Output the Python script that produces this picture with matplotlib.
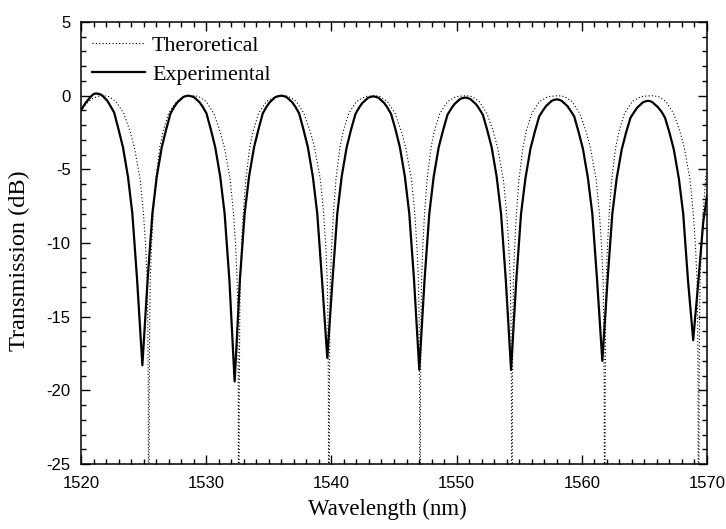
import matplotlib
matplotlib.use('Agg')
import matplotlib.pyplot as plt
from matplotlib.ticker import MultipleLocator

plt.rcParams['axes.unicode_minus'] = False
plt.rcParams['font.family'] = 'Liberation Sans'

# theoretical transmission (dotted)
theo_wl = [
    1520.00, 1520.40, 1520.90, 1521.30, 1521.80,
    1522.21, 1522.81, 1523.41, 1523.91, 1524.26, 1524.73, 1524.99, 1525.16, 1525.28, 1525.33, 1525.37, 1525.41,
    1525.45, 1525.49, 1525.53, 1525.63, 1525.77, 1525.97, 1526.29, 1526.56, 1526.99, 1527.61, 1528.31, 1529.00,
    1529.40, 1530.00, 1530.60, 1531.10, 1531.45, 1531.92, 1532.18, 1532.35, 1532.47, 1532.52, 1532.56, 1532.60,
    1532.64, 1532.68, 1532.72, 1532.82, 1532.96, 1533.16, 1533.48, 1533.75, 1534.18, 1534.80, 1535.50, 1536.25,
    1536.60, 1537.20, 1537.80, 1538.30, 1538.65, 1539.12, 1539.38, 1539.55, 1539.67, 1539.72, 1539.76, 1539.80,
    1539.84, 1539.88, 1539.92, 1540.02, 1540.16, 1540.36, 1540.68, 1540.95, 1541.38, 1542.00, 1542.70, 1543.45,
    1543.88, 1544.48, 1545.08, 1545.58, 1545.93, 1546.40, 1546.66, 1546.83, 1546.95, 1547.00, 1547.04, 1547.08,
    1547.12, 1547.16, 1547.20, 1547.30, 1547.44, 1547.64, 1547.96, 1548.23, 1548.66, 1549.28, 1549.98, 1550.75,
    1551.22, 1551.82, 1552.42, 1552.92, 1553.27, 1553.74, 1554.00, 1554.17, 1554.29, 1554.34, 1554.38, 1554.42,
    1554.46, 1554.50, 1554.54, 1554.64, 1554.78, 1554.98, 1555.30, 1555.57, 1556.00, 1556.62, 1557.32, 1558.12,
    1558.63, 1559.23, 1559.83, 1560.33, 1560.68, 1561.15, 1561.41, 1561.58, 1561.70, 1561.75, 1561.79, 1561.83,
    1561.87, 1561.91, 1561.95, 1562.05, 1562.19, 1562.39, 1562.71, 1562.98, 1563.41, 1564.03, 1564.73, 1565.58,
    1566.13, 1566.73, 1567.33, 1567.83, 1568.18, 1568.65, 1568.91, 1569.08, 1569.20, 1569.25, 1569.29, 1569.33,
    1569.37, 1569.41, 1569.45, 1569.55, 1569.69, 1569.89, 1570.00,
]
theo_db = [
    -1.05, -0.55, -0.20, -0.05, 0.00,
    -0.06, -0.4, -1.2, -2.4, -3.5, -5.7, -8.0, -10.2, -12.5, -15.0, -20.0, -40.0,
    -20.0, -15.0, -12.5, -10.2, -8.0, -5.7, -3.5, -2.4, -1.2, -0.4, -0.06, 0.00,
    -0.06, -0.4, -1.2, -2.4, -3.5, -5.7, -8.0, -10.2, -12.5, -15.0, -20.0, -40.0,
    -20.0, -15.0, -12.5, -10.2, -8.0, -5.7, -3.5, -2.4, -1.2, -0.4, -0.06, 0.00,
    -0.06, -0.4, -1.2, -2.4, -3.5, -5.7, -8.0, -10.2, -12.5, -15.0, -20.0, -40.0,
    -20.0, -15.0, -12.5, -10.2, -8.0, -5.7, -3.5, -2.4, -1.2, -0.4, -0.06, 0.00,
    -0.06, -0.4, -1.2, -2.4, -3.5, -5.7, -8.0, -10.2, -12.5, -15.0, -20.0, -40.0,
    -20.0, -15.0, -12.5, -10.2, -8.0, -5.7, -3.5, -2.4, -1.2, -0.4, -0.06, 0.00,
    -0.06, -0.4, -1.2, -2.4, -3.5, -5.7, -8.0, -10.2, -12.5, -15.0, -20.0, -40.0,
    -20.0, -15.0, -12.5, -10.2, -8.0, -5.7, -3.5, -2.4, -1.2, -0.4, -0.06, 0.00,
    -0.06, -0.4, -1.2, -2.4, -3.5, -5.7, -8.0, -10.2, -12.5, -15.0, -20.0, -40.0,
    -20.0, -15.0, -12.5, -10.2, -8.0, -5.7, -3.5, -2.4, -1.2, -0.4, -0.06, 0.00,
    -0.06, -0.4, -1.2, -2.4, -3.5, -5.7, -8.0, -10.2, -12.5, -15.0, -20.0, -40.0,
    -20.0, -15.0, -12.5, -10.2, -8.0, -5.7, -5.0,
]

# measured transmission (solid)
exp_wl = [
    1520.00, 1520.40, 1520.80, 1521.02, 1521.22, 1521.42,
    1521.65, 1522.10, 1522.35, 1522.65, 1523.00, 1523.35, 1523.75, 1524.10, 1524.48, 1524.62, 1524.76, 1524.90,
    1525.04, 1525.18, 1525.32, 1525.70, 1526.05, 1526.45, 1526.80, 1527.15, 1527.45, 1527.70, 1528.15, 1528.35, 1528.55,
    1528.75, 1529.02, 1529.47, 1529.72, 1530.02, 1530.37, 1530.72, 1531.12, 1531.47, 1531.85, 1531.99, 1532.13, 1532.27,
    1532.41, 1532.55, 1532.69, 1533.07, 1533.42, 1533.82, 1534.17, 1534.52, 1534.82, 1535.07, 1535.52, 1535.78, 1536.00,
    1536.21, 1536.42, 1536.87, 1537.12, 1537.42, 1537.77, 1538.12, 1538.52, 1538.87, 1539.25, 1539.39, 1539.53, 1539.67,
    1539.81, 1539.95, 1540.09, 1540.47, 1540.82, 1541.22, 1541.57, 1541.92, 1542.22, 1542.47, 1542.92, 1543.14, 1543.35,
    1543.56, 1543.77, 1544.22, 1544.47, 1544.77, 1545.12, 1545.47, 1545.87, 1546.22, 1546.60, 1546.74, 1546.88, 1547.02,
    1547.16, 1547.30, 1547.44, 1547.82, 1548.17, 1548.57, 1548.92, 1549.27, 1549.57, 1549.82, 1550.27, 1550.48, 1550.68,
    1550.89, 1551.10, 1551.55, 1551.80, 1552.10, 1552.45, 1552.80, 1553.20, 1553.55, 1553.93, 1554.07, 1554.21, 1554.35,
    1554.49, 1554.63, 1554.77, 1555.15, 1555.50, 1555.90, 1556.25, 1556.60, 1556.90, 1557.15, 1557.60, 1557.80, 1558.00,
    1558.20, 1558.39, 1558.84, 1559.09, 1559.39, 1559.74, 1560.09, 1560.49, 1560.84, 1561.22, 1561.36, 1561.50, 1561.64,
    1561.78, 1561.92, 1562.06, 1562.44, 1562.79, 1563.19, 1563.54, 1563.89, 1564.19, 1564.44, 1564.89, 1565.10, 1565.30,
    1565.48, 1565.65, 1566.10, 1566.38, 1566.65, 1567.00, 1567.35, 1567.75, 1568.10, 1568.48, 1568.62, 1568.76, 1568.90,
    1569.04, 1569.18, 1569.32, 1569.70, 1570.00,
]
exp_db = [
    -0.97, -0.45, -0.05, 0.12, 0.15, 0.12,
    0.05, -0.35, -0.7, -1.15, -2.3, -3.5, -5.5, -8.0, -12.5, -14.43, -16.37, -18.3,
    -16.37, -14.43, -12.5, -8.0, -5.5, -3.5, -2.3, -1.2, -0.75, -0.45, -0.1, -0.03, 0.0,
    -0.03, -0.1, -0.45, -0.75, -1.2, -2.3, -3.5, -5.5, -8.0, -12.5, -14.8, -17.1, -19.4,
    -17.1, -14.8, -12.5, -8.0, -5.5, -3.5, -2.3, -1.2, -0.75, -0.45, -0.1, -0.03, 0.0,
    -0.03, -0.1, -0.45, -0.75, -1.2, -2.3, -3.5, -5.5, -8.0, -12.5, -14.27, -16.03, -17.8,
    -16.03, -14.27, -12.5, -8.0, -5.5, -3.5, -2.3, -1.25, -0.8, -0.5, -0.15, -0.08, -0.05,
    -0.08, -0.15, -0.5, -0.8, -1.25, -2.3, -3.5, -5.5, -8.0, -12.5, -14.53, -16.57, -18.6,
    -16.57, -14.53, -12.5, -8.0, -5.5, -3.5, -2.35, -1.3, -0.88, -0.58, -0.23, -0.16, -0.13,
    -0.16, -0.23, -0.58, -0.88, -1.3, -2.35, -3.5, -5.5, -8.0, -12.5, -14.53, -16.57, -18.6,
    -16.57, -14.53, -12.5, -8.0, -5.6, -3.6, -2.45, -1.4, -1.0, -0.7, -0.35, -0.28, -0.25,
    -0.28, -0.35, -0.7, -1.0, -1.4, -2.45, -3.6, -5.6, -8.0, -12.5, -14.33, -16.17, -18.0,
    -16.17, -14.33, -12.5, -8.0, -5.6, -3.65, -2.5, -1.5, -1.1, -0.8, -0.45, -0.38, -0.35,
    -0.38, -0.45, -0.8, -1.1, -1.5, -2.5, -3.65, -5.6, -8.0, -12.5, -13.87, -15.23, -16.6,
    -15.2, -13.9, -12.5, -8.6, -6.8,
]

fig = plt.figure(figsize=(7.26, 5.29), dpi=100)
ax = fig.add_axes([0.1116, 0.1229, 0.8622, 0.8355])

ax.plot(theo_wl, theo_db, color='black', lw=0.8, ls=(0, (1, 2)),
        label='Theroretical')
ax.plot(exp_wl, exp_db, color='black', lw=1.6, label='Experimental')

ax.set_xlim(1520, 1570)
ax.set_ylim(-25, 5)
ax.xaxis.set_major_locator(MultipleLocator(10))
ax.xaxis.set_minor_locator(MultipleLocator(1))
ax.yaxis.set_major_locator(MultipleLocator(5))
ax.yaxis.set_minor_locator(MultipleLocator(1))
ax.tick_params(which='both', direction='in', top=True, right=True,
               width=1.0, labelsize=12)
ax.tick_params(axis='x', which='major', length=6.5, pad=8.5)
ax.tick_params(axis='y', which='major', length=6.5, pad=7.5)
ax.tick_params(which='minor', length=3.5)
for s in ax.spines.values():
    s.set_linewidth(1.1)

ax.set_xlabel('Wavelength (nm)', family='Liberation Serif', fontsize=16.5,
              labelpad=8)
ax.set_ylabel('Transmission (dB)', family='Liberation Serif', fontsize=17.5)
ax.yaxis.set_label_coords(-0.082, 0.46)
ax.xaxis.set_label_coords(0.49, -0.078)

leg = ax.legend(loc='upper left', bbox_to_anchor=(0, 0.993), frameon=False,
                handlelength=2.45, handletextpad=0.3, borderaxespad=0.08,
                labelspacing=0.38,
                prop={'family': 'Liberation Serif', 'size': 15.8})

fig.savefig('out.png', dpi=100)
